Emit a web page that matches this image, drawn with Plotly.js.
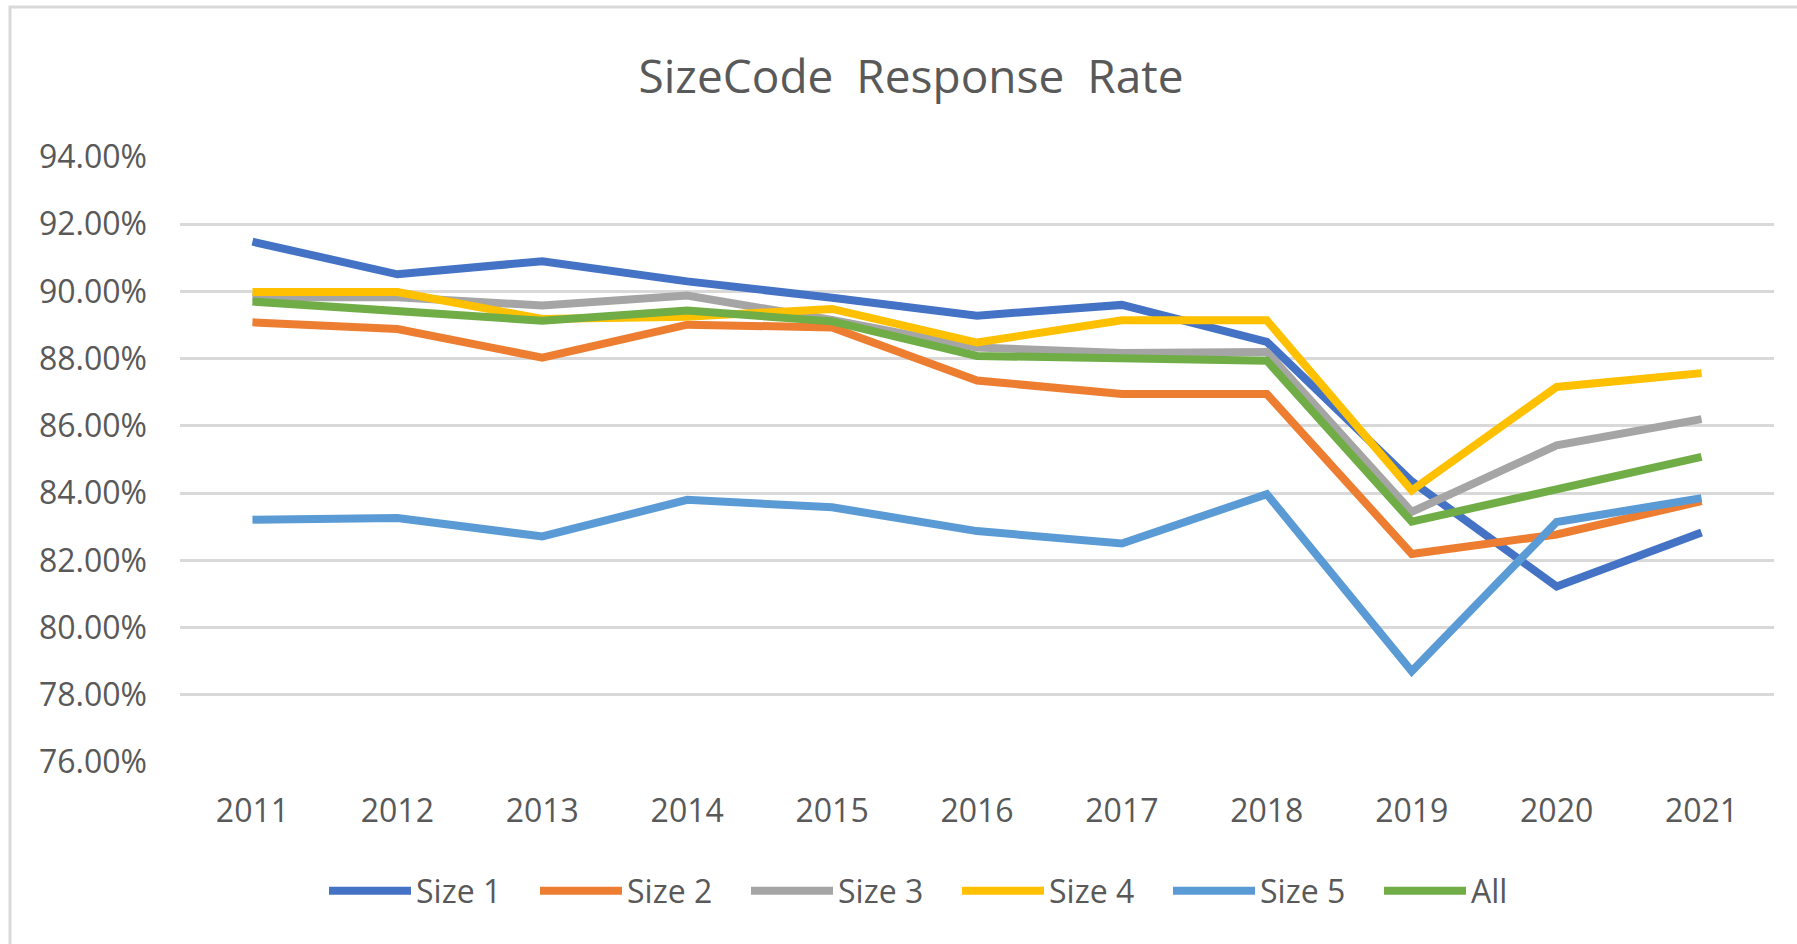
<!DOCTYPE html>
<html>
<head>
<meta charset="utf-8">
<script src="https://cdn.plot.ly/plotly-3.0.1.min.js"></script>
<style>
  html, body { margin: 0; padding: 0; background: #ffffff; }
  #chart { width: 1797px; height: 944px; }
</style>
</head>
<body>
<div id="chart"></div>
<script>
// Categories (x axis)
const years = ['2011', '2012', '2013', '2014', '2015', '2016', '2017', '2018', '2019', '2020', '2021'];

// Series values (response rate, as fractions)
const size1 = [0.9148, 0.9051, 0.9090, 0.9030, 0.8981, 0.8928, 0.8960, 0.8850, 0.8435, 0.8122, 0.8283];
const size2 = [0.8908, 0.8888, 0.8803, 0.8901, 0.8893, 0.8735, 0.8695, 0.8695, 0.8219, 0.8277, 0.8376];
const size3 = [0.8983, 0.8983, 0.8958, 0.8988, 0.8915, 0.8833, 0.8817, 0.8820, 0.8344, 0.8542, 0.8620];
const size4 = [0.8998, 0.8998, 0.8918, 0.8925, 0.8948, 0.8848, 0.8914, 0.8914, 0.8408, 0.8716, 0.8757];
const size5 = [0.8321, 0.8326, 0.8271, 0.8380, 0.8358, 0.8287, 0.8250, 0.8397, 0.7870, 0.8314, 0.8385];
const allSizes = [0.8970, 0.8943, 0.8913, 0.8943, 0.8911, 0.8808, 0.8803, 0.8794, 0.8315, 0.8410, 0.8508];

// Y tick values
const yTicks = [0.76, 0.78, 0.80, 0.82, 0.84, 0.86, 0.88, 0.90, 0.92, 0.94];

const seriesNames = ['Size 1', 'Size 2', 'Size 3', 'Size 4', 'Size 5', 'All'];
const seriesData = [size1, size2, size3, size4, size5, allSizes];
const seriesColors = ['#4472C4', '#ED7D31', '#A5A5A5', '#FFC000', '#5B9BD5', '#70AD47'];

const FONT = '"Open Sans", "Noto Sans", sans-serif';
const TXT = '#595959';
const TICK_SIZE = 32;

const traces = seriesNames.map((name, i) => ({
  type: 'scatter',
  mode: 'lines',
  name: name,
  x: years,
  y: seriesData[i],
  line: { color: seriesColors[i], width: 8 },
  hoverinfo: 'x+y+name'
}));

// Plot area in pixels: left 180, right 1774, top 157, bottom 762
const L = 180, R = 1774, T = 157, B = 762;
const PW = R - L, PH = B - T;
const px = v => (v - L) / PW;
const py = v => (B - v) / PH;

const LEGEND_LINE = 82;

const layout = {
  width: 1797,
  height: 944,
  margin: { l: L, r: 1797 - R, t: T, b: 944 - B, pad: 0 },
  paper_bgcolor: '#ffffff',
  plot_bgcolor: '#ffffff',
  font: { family: FONT, color: TXT, size: TICK_SIZE },
  title: {
    text: 'SizeCode\u2002Response\u2002Rate',
    font: { family: FONT, size: 46, color: TXT },
    xref: 'paper', x: px(911), xanchor: 'center',
    yref: 'container', y: 1 - 77 / 944, yanchor: 'middle'
  },
  xaxis: {
    type: 'category',
    range: [-0.5, 10.5],
    showgrid: false,
    zeroline: false,
    showline: false,
    ticks: '',
    ticklabelstandoff: 27,
    tickfont: { family: FONT, size: TICK_SIZE, color: TXT },
    fixedrange: true
  },
  yaxis: {
    range: [0.76, 0.94],
    tickvals: yTicks,
    tickformat: '.2%',
    showgrid: true,
    gridcolor: '#d9d9d9',
    gridwidth: 2.5,
    zeroline: false,
    showline: false,
    ticks: '',
    ticklabelstandoff: 32,
    tickfont: { family: FONT, size: TICK_SIZE, color: TXT },
    fixedrange: true
  },
  showlegend: true,
  legend: {
    orientation: 'h',
    xref: 'paper', x: px(324), xanchor: 'left',
    yref: 'paper', y: py(891), yanchor: 'middle',
    font: { family: FONT, size: TICK_SIZE, color: TXT },
    itemwidth: LEGEND_LINE,
    entrywidth: 114,
    entrywidthmode: 'pixels',
    bgcolor: 'rgba(0,0,0,0)',
    itemclick: false,
    itemdoubleclick: false
  },
  shapes: [{
    type: 'rect',
    xref: 'paper', yref: 'paper',
    x0: px(10), x1: px(1810),
    y0: py(955), y1: py(7),
    line: { color: '#d9d9d9', width: 3 },
    fillcolor: 'rgba(0,0,0,0)',
    layer: 'below'
  }]
};

const gd = document.getElementById('chart');
Plotly.newPlot(gd, traces, layout, { displayModeBar: false }).then(() => {
  // Report legend line geometry for inspection
  const p = gd.querySelector('.legendlines path');
  if (p) console.log('legend path', p.getAttribute('d'), p.parentNode.getAttribute('transform'));
});
</script>
</body>
</html>
